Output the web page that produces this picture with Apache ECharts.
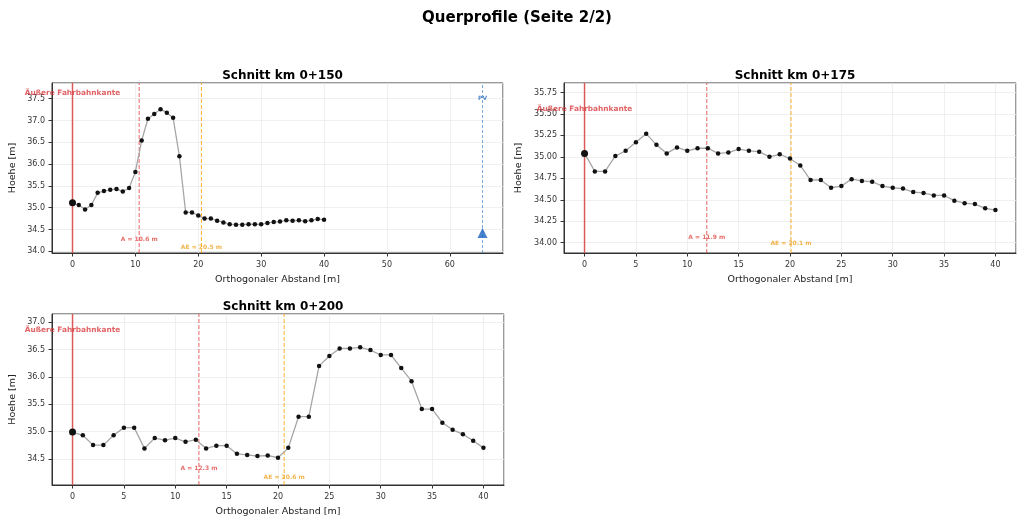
<!DOCTYPE html>
<html>
<head>
<meta charset="utf-8">
<script src="https://cdn.jsdelivr.net/npm/echarts@6/dist/echarts.min.js"></script>
<style>
html, body { margin: 0; padding: 0; background: #fff; }
#chart { width: 1024px; height: 527px; }
</style>
</head>
<body>
<div id="chart"></div>
<script>
// Abstand der Profilpunkte [m]
var abstand = [0, 1, 2, 3, 4, 5, 6, 7, 8, 9, 10, 11, 12, 13, 14, 15, 16, 17, 18, 19, 20,
               21, 22, 23, 24, 25, 26, 27, 28, 29, 30, 31, 32, 33, 34, 35, 36, 37, 38, 39, 40];

// Hoehen je Schnitt [m]
var hoehe150 = [35.11, 35.06, 34.96, 35.06, 35.34, 35.38, 35.41, 35.43, 35.37, 35.45, 35.82,
                36.54, 37.04, 37.15, 37.26, 37.18, 37.06, 36.18, 34.89, 34.89, 34.82,
                34.75, 34.75, 34.70, 34.66, 34.62, 34.61, 34.61, 34.62, 34.62, 34.62,
                34.65, 34.67, 34.68, 34.71, 34.70, 34.71, 34.69, 34.71, 34.74, 34.72];
var hoehe175 = [35.04, 34.83, 34.83, 35.01, 35.07, 35.17, 35.27, 35.14, 35.04, 35.11, 35.07,
                35.10, 35.10, 35.04, 35.05, 35.09, 35.07, 35.06, 35.00, 35.03, 34.98,
                34.90, 34.73, 34.73, 34.64, 34.66, 34.74, 34.72, 34.71, 34.66, 34.64,
                34.63, 34.59, 34.58, 34.55, 34.55, 34.49, 34.46, 34.45, 34.40, 34.38];
var hoehe200 = [34.99, 34.93, 34.75, 34.75, 34.93, 35.07, 35.07, 34.69, 34.88, 34.84, 34.88,
                34.81, 34.85, 34.69, 34.74, 34.74, 34.59, 34.57, 34.55, 34.56, 34.52,
                34.70, 35.27, 35.27, 36.20, 36.38, 36.52, 36.52, 36.54, 36.49, 36.40,
                36.40, 36.16, 35.92, 35.41, 35.41, 35.16, 35.03, 34.95, 34.83, 34.70];

var schnitte = ['Schnitt km 0+150', 'Schnitt km 0+175', 'Schnitt km 0+200'];
var abstandA = [10.6, 11.9, 12.3];
var abstandAE = [20.5, 20.1, 20.6];
var pvAbstand = 65.2;
var pvHoehe = 34.42;

// Hoehe, auf der die Beschriftungen stehen [m]
var yKante = [37.62, 35.56, 36.86];
var yTextA = [34.27, 34.06, 34.32];
var yTextAE = [34.09, 33.99, 34.15];

var profile = [hoehe150, hoehe175, hoehe200];

var grids = [
    {left: 52, top: 83, width: 451, height: 170},
    {left: 564, top: 83, width: 452, height: 170},
    {left: 52, top: 314, width: 452, height: 171}
];
var xBereich = [[-3.26, 68.46], [-2, 42], [-2, 42]];
var yBereich = [[33.96, 37.86], [33.88, 35.86], [34.02, 37.15]];
var xSchritt = [10, 5, 5];
var ySchritt = [0.5, 0.25, 0.5];
var yStellen = [1, 2, 1];

var fnt = 'DejaVu Sans';
var rahmen = '#333';
var gitter = '#ebebeb';

function achse(i, typ) {
    var x = typ === 'x';
    var schritt = x ? xSchritt[i] : ySchritt[i];
    var bereich = x ? xBereich[i] : yBereich[i];
    return {
        type: 'value',
        gridIndex: i,
        min: bereich[0],
        max: bereich[1],
        minInterval: schritt,
        maxInterval: schritt,
        name: x ? 'Orthogonaler Abstand [m]' : 'Hoehe [m]',
        nameLocation: 'middle',
        nameGap: x ? 22 : (i === 1 ? 40 : 34),
        nameTextStyle: {fontFamily: fnt, fontSize: 9.5, color: '#222'},
        axisLine: {show: true, onZero: false, lineStyle: {color: rahmen, width: 1}},
        axisTick: {show: true, length: 3.5, lineStyle: {color: rahmen}},
        axisLabel: {
            show: true,
            margin: x ? 8 : 7,
            fontFamily: fnt,
            fontSize: 8,
            color: '#333',
            showMinLabel: false,
            showMaxLabel: false,
            formatter: function (v) {
                var k = Math.round(v / schritt);
                if (Math.abs(k * schritt - v) > 1e-6) return '';
                return x ? String(Math.round(v)) : v.toFixed(yStellen[i]);
            }
        },
        splitLine: {show: true, lineStyle: {color: gitter, width: 0.8}}
    };
}

// senkrechte Hilfslinie ueber die ganze Achsenhoehe
function senkrecht(i, xw, farbe, art, breite) {
    return {
        type: 'line',
        xAxisIndex: i,
        yAxisIndex: i,
        data: [[xw, yBereich[i][0]], [xw, yBereich[i][1]]],
        symbol: 'none',
        silent: true,
        z: 2,
        lineStyle: {color: farbe, type: art, width: breite}
    };
}

var titles = [{
    text: 'Querprofile (Seite 2/2)',
    left: 512, top: 6, textAlign: 'center',
    textStyle: {fontFamily: fnt, fontSize: 15, fontWeight: 'bold', color: '#000'}
}];
var xAxes = [], yAxes = [], series = [];

for (var i = 0; i < 3; i++) {
    var g = grids[i];
    titles.push({
        text: schnitte[i],
        left: g.left + g.width / 2,
        top: g.top - 18,
        textAlign: 'center',
        textStyle: {fontFamily: fnt, fontSize: 12, fontWeight: 'bold', color: '#000'}
    });
    xAxes.push(achse(i, 'x'));
    yAxes.push(achse(i, 'y'));

    series.push(senkrecht(i, 0, 'rgba(214,39,40,0.75)', 'solid', 1.5));
    series.push(senkrecht(i, abstandA[i], 'rgba(230,60,60,0.8)', [4, 2], 1));
    series.push(senkrecht(i, abstandAE[i], 'rgba(255,165,0,0.85)', [4, 2], 1));
    if (i === 0) {
        series.push(senkrecht(i, pvAbstand, 'rgba(31,110,200,0.6)', [3, 2], 1));
    }

    var punkte = abstand.map(function (a, k) { return [a, profile[i][k]]; });

    series.push({
        type: 'line',
        xAxisIndex: i,
        yAxisIndex: i,
        data: punkte,
        symbol: 'circle',
        symbolSize: function (v, p) { return p.dataIndex === 0 ? 7 : 4.5; },
        showAllSymbol: true,
        lineStyle: {color: '#a6a6a6', width: 1.3},
        itemStyle: {color: '#111'},
        z: 3
    });

    var texte = [
        {value: [0, yKante[i]], label: {formatter: 'Äußere Fahrbahnkante', fontSize: 7.4, color: '#d83a3d'}},
        {value: [abstandA[i], yTextA[i]], label: {formatter: 'A = ' + abstandA[i].toFixed(1) + ' m', fontSize: 6, color: '#e04a45'}},
        {value: [abstandAE[i], yTextAE[i]], label: {formatter: 'AE = ' + abstandAE[i].toFixed(1) + ' m', fontSize: 6, color: '#f0a020'}}
    ];
    if (i === 0) {
        texte.push({value: [pvAbstand, 37.5], label: {formatter: 'PV', fontSize: 6, color: '#2a6fc0'}});
    }
    series.push({
        type: 'scatter',
        xAxisIndex: i,
        yAxisIndex: i,
        symbolSize: 1,
        itemStyle: {color: 'rgba(0,0,0,0)'},
        silent: true,
        clip: false,
        z: 5,
        label: {show: true, position: 'inside', fontFamily: fnt, fontWeight: 'bold'},
        data: texte
    });
}

series.push({
    type: 'scatter',
    xAxisIndex: 0,
    yAxisIndex: 0,
    symbol: 'triangle',
    symbolSize: 10,
    itemStyle: {color: '#1a62c0'},
    z: 4,
    data: [[pvAbstand, pvHoehe]]
});

var myChart = echarts.init(document.getElementById('chart'));
myChart.setOption({
    animation: false,
    backgroundColor: '#fff',
    title: titles,
    grid: grids.map(function (g) {
        return {left: g.left, top: g.top, width: g.width, height: g.height,
                show: true, borderColor: rahmen, borderWidth: 1, backgroundColor: 'transparent'};
    }),
    xAxis: xAxes,
    yAxis: yAxes,
    series: series
});
</script>
</body>
</html>
